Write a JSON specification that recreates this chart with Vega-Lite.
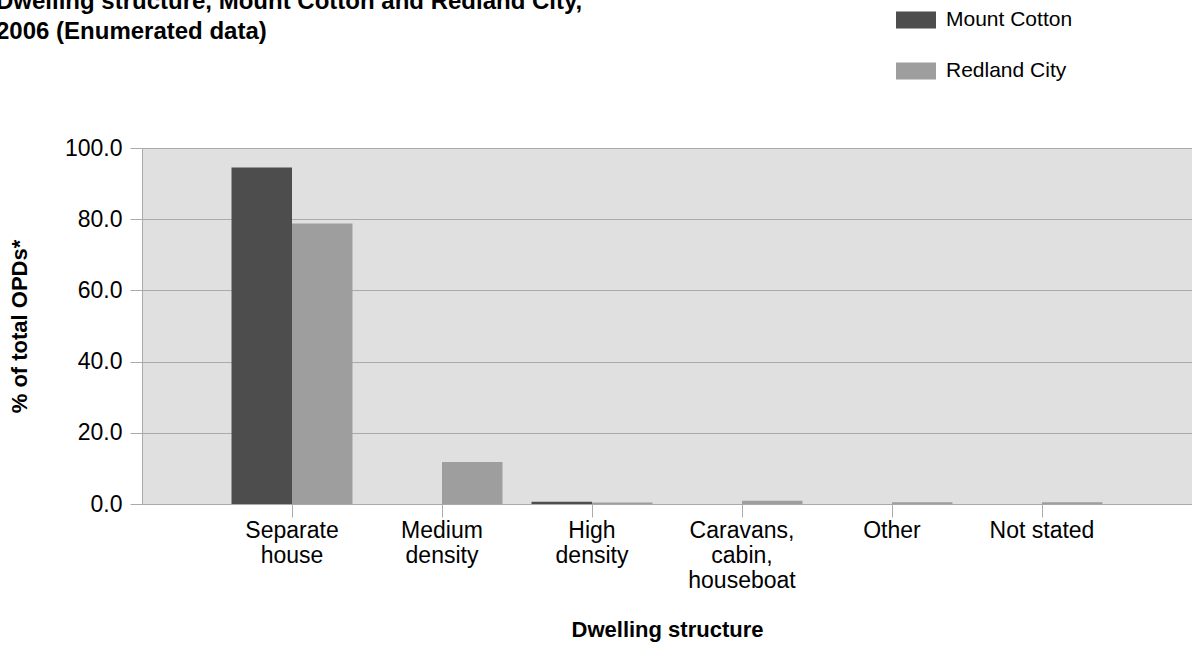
{
  "$schema": "https://vega.github.io/schema/vega-lite/v6.json",
  "width": 1050,
  "height": 356,
  "autosize": "none",
  "padding": {"left": 142, "top": 148, "right": 0, "bottom": 142},
  "background": "white",
  "config": {
    "font": "Liberation Sans",
    "view": {"fill": "#e0e0e0", "stroke": null}
  },
  "title": {
    "text": ["Dwelling structure, Mount Cotton and Redland City,", "2006 (Enumerated data)"],
    "anchor": "start",
    "frame": "group",
    "fontSize": 24,
    "fontWeight": "bold",
    "color": "#000",
    "lineHeight": 30,
    "baseline": "top",
    "dx": -146,
    "dy": 48
  },
  "data": {
    "values": [
      {"structure": "Separate house", "area": "Mount Cotton", "pct": 94.5},
      {"structure": "Separate house", "area": "Redland City", "pct": 78.8},
      {"structure": "Medium density", "area": "Mount Cotton", "pct": 0},
      {"structure": "Medium density", "area": "Redland City", "pct": 11.8},
      {"structure": "High density", "area": "Mount Cotton", "pct": 0.6},
      {"structure": "High density", "area": "Redland City", "pct": 0.4},
      {"structure": "Caravans, cabin, houseboat", "area": "Mount Cotton", "pct": 0},
      {"structure": "Caravans, cabin, houseboat", "area": "Redland City", "pct": 0.9},
      {"structure": "Other", "area": "Mount Cotton", "pct": 0},
      {"structure": "Other", "area": "Redland City", "pct": 0.5},
      {"structure": "Not stated", "area": "Mount Cotton", "pct": 0},
      {"structure": "Not stated", "area": "Redland City", "pct": 0.5}
    ]
  },
  "mark": {"type": "bar"},
  "encoding": {
    "x": {
      "field": "structure",
      "type": "nominal",
      "sort": ["Separate house", "Medium density", "High density", "Caravans, cabin, houseboat", "Other", "Not stated"],
      "scale": {"paddingInner": 0, "paddingOuter": 0.5},
      "title": "Dwelling structure",
      "axis": {
        "labelAngle": 0,
        "labelExpr": "datum.label == 'Not stated' ? datum.label : split(datum.label, ' ')",
        "labelFontSize": 23,
        "labelColor": "#000",
        "labelLineHeight": 25,
        "labelPadding": 2,
        "labelBaseline": "top",
        "domainColor": "#aaaaaa",
        "tickColor": "#aaaaaa",
        "tickSize": 13,
        "titleFontSize": 22,
        "titleFontWeight": "bold",
        "titleColor": "#000",
        "titlePadding": 27
      }
    },
    "xOffset": {
      "field": "area",
      "type": "nominal",
      "sort": ["Mount Cotton", "Redland City"],
      "scale": {"paddingInner": 0, "paddingOuter": 0.24}
    },
    "y": {
      "field": "pct",
      "type": "quantitative",
      "scale": {"domain": [0, 100], "nice": false},
      "title": "% of total OPDs*",
      "axis": {
        "values": [0, 20, 40, 60, 80, 100],
        "format": ".1f",
        "labelFontSize": 23,
        "labelColor": "#000",
        "labelPadding": 8,
        "tickSize": 12,
        "tickColor": "#aaaaaa",
        "domainColor": "#aaaaaa",
        "gridColor": "#aaaaaa",
        "titleFontSize": 22,
        "titleFontWeight": "bold",
        "titleColor": "#000",
        "titlePadding": 33
      }
    },
    "color": {
      "field": "area",
      "type": "nominal",
      "scale": {"domain": ["Mount Cotton", "Redland City"], "range": ["#4d4d4d", "#9e9e9e"]},
      "legend": {
        "orient": "none",
        "legendX": 754,
        "legendY": -148,
        "direction": "vertical",
        "title": null,
        "padding": 0,
        "symbolType": "M-1,-0.425H1V0.425H-1Z",
        "symbolSize": 1600,
        "symbolStrokeWidth": 0,
        "symbolOpacity": 1,
        "labelFontSize": 21,
        "labelColor": "#000",
        "labelOffset": 10,
        "rowPadding": 21
      }
    }
  }
}
